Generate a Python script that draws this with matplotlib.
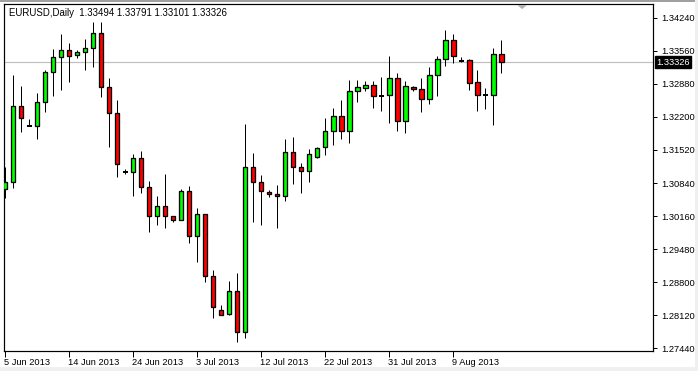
import matplotlib
matplotlib.use("Agg")
import matplotlib.pyplot as plt
import matplotlib.transforms as mtransforms
from matplotlib.patches import Rectangle, Polygon

symbol_title = "EURUSD,Daily"

opens = [1.30717, 1.30855, 1.32419, 1.32019, 1.32007, 1.32513, 1.33118, 1.33427, 1.33571, 1.33468,
         1.33530, 1.33612, 1.33921, 1.32816, 1.32275, 1.31060, 1.31060, 1.31349, 1.30752, 1.30155,
         1.30361, 1.30155, 1.30073, 1.30669, 1.29743, 1.30196, 1.28920, 1.28220, 1.28138, 1.28611,
         1.27768, 1.31163, 1.30855, 1.30649, 1.30608, 1.30566, 1.31472, 1.31163, 1.31081, 1.31369,
         1.31575, 1.31904, 1.32213, 1.31904, 1.32727, 1.32789, 1.32851, 1.32637, 1.32645, 1.32995,
         1.32110, 1.32816, 1.32769, 1.32563, 1.33057, 1.33386, 1.33777, 1.33357, 1.33365, 1.32913,
         1.32645, 1.32645, 1.33494]
highs = [1.31176, 1.33063, 1.32836, 1.32151, 1.32686, 1.33166, 1.33598, 1.33907, 1.33715, 1.33577,
         1.33804, 1.34147, 1.34147, 1.32995, 1.32542, 1.31128, 1.31431, 1.31499, 1.30881, 1.30573,
         1.31025, 1.30155, 1.30717, 1.30778, 1.30332, 1.30196, 1.29050, 1.28329, 1.28823, 1.28988,
         1.32054, 1.31458, 1.31005, 1.30696, 1.30799, 1.31746, 1.31781, 1.31246, 1.31534, 1.31587,
         1.32172, 1.32378, 1.32542, 1.32960, 1.32960, 1.32933, 1.32933, 1.33022, 1.33454, 1.33098,
         1.32939, 1.32836, 1.32995, 1.33227, 1.33448, 1.33989, 1.33907, 1.33427, 1.33386, 1.33166,
         1.32795, 1.33612, 1.33791]
lows = [1.30525, 1.30744, 1.31896, 1.32013, 1.31746, 1.32308, 1.32637, 1.32760, 1.32925, 1.33419,
        1.33172, 1.33234, 1.32604, 1.31587, 1.30970, 1.31019, 1.30579, 1.30641, 1.29838, 1.29976,
        1.29908, 1.30044, 1.30073, 1.29605, 1.29221, 1.28809, 1.28056, 1.28117, 1.28117, 1.27562,
        1.27644, 1.30044, 1.29976, 1.30558, 1.29920, 1.30476, 1.30826, 1.30641, 1.30867, 1.31349,
        1.31423, 1.31628, 1.31752, 1.31657, 1.32513, 1.32740, 1.32378, 1.32328, 1.32081, 1.31917,
        1.31863, 1.32727, 1.32308, 1.32460, 1.32637, 1.33254, 1.33316, 1.33324, 1.32760, 1.32328,
        1.32363, 1.32040, 1.33101]
closes = [1.30855, 1.32419, 1.32172, 1.32019, 1.32513, 1.33118, 1.33427, 1.33571, 1.33448, 1.33530,
          1.33612, 1.33921, 1.32816, 1.32275, 1.31225, 1.31060, 1.31349, 1.30752, 1.30155, 1.30361,
          1.30155, 1.30073, 1.30669, 1.29743, 1.30196, 1.28920, 1.28282, 1.28117, 1.28611, 1.27768,
          1.31163, 1.30855, 1.30669, 1.30608, 1.30566, 1.31472, 1.31163, 1.31081, 1.31431, 1.31567,
          1.31904, 1.32213, 1.31904, 1.32727, 1.32810, 1.32851, 1.32625, 1.32637, 1.32995, 1.32110,
          1.32830, 1.32775, 1.32563, 1.33057, 1.33386, 1.33777, 1.33448, 1.33357, 1.32904, 1.32645,
          1.32645, 1.33489, 1.33326]

date_tick_index = [0, 8, 16, 24, 32, 40, 48, 56]
date_tick_labels = ["5 Jun 2013", "14 Jun 2013", "24 Jun 2013", "3 Jul 2013",
                    "12 Jul 2013", "22 Jul 2013", "31 Jul 2013", "9 Aug 2013"]
price_ticks = [1.34240, 1.33560, 1.32880, 1.32200, 1.31520, 1.30840,
               1.30160, 1.29480, 1.28800, 1.28120, 1.27440]

W, H = 698, 371
DPI = 100
PX = 72.0 / DPI  # one pixel in points

fig = plt.figure(figsize=(W / DPI, H / DPI), dpi=DPI, facecolor="white")

# window-ish outer strips
fig.patches.append(Rectangle((0, 1 - 1.5 / H), 1, 1.5 / H, transform=fig.transFigure,
                             facecolor="#a0a0a0", edgecolor="none"))
fig.patches.append(Rectangle((0, 0), 1, 4 / H, transform=fig.transFigure,
                             facecolor="#f0f0f0", edgecolor="none"))
fig.patches.append(Rectangle((1 - 3 / W, 0), 3 / W, 1, transform=fig.transFigure,
                             facecolor="#f0f0f0", edgecolor="none"))

left, right, top, bottom = 4, 653, 4, 351
ax = fig.add_axes([left / W, 1 - bottom / H, (right - left) / W, (bottom - top) / H])
ax.set_facecolor("white")

n = len(opens)
xs = list(range(n))
ax.set_xlim(-0.16, 80.96)
ax.set_ylim(1.27383, 1.34524)

# close price line
last_close = closes[-1]
ax.axhline(last_close, color="#c0c0c0", lw=PX * 1.2, zorder=1)

# wicks
ax.vlines(xs, lows, highs, color="black", lw=PX, zorder=2)

body_w = 0.55
for i in range(n):
    o, c = opens[i], closes[i]
    if abs(c - o) < 1e-7:
        ax.hlines(o, i - body_w / 2 - 0.06, i + body_w / 2 + 0.06, color="black", lw=PX * 2, zorder=3)
    else:
        col = "#00ff00" if c > o else "#ff0000"
        ax.bar(i, abs(c - o), bottom=min(o, c), width=body_w, color=col,
               edgecolor="black", linewidth=PX * 1.3, zorder=3)

# axes frame
for s in ax.spines.values():
    s.set_color("black")
    s.set_linewidth(PX * 1.2)

font = "Liberation Sans"
fs = 6.7

# right price axis
ax.yaxis.tick_right()
ax.set_yticks(price_ticks)
ax.set_yticklabels([f"{p:.5f}" for p in price_ticks], fontfamily=font, fontsize=fs)
ax.tick_params(axis="y", direction="out", length=3, width=PX, pad=3, colors="black")
ax.tick_params(axis="y", which="both", left=False)

# date axis
ax.set_xticks(date_tick_index)
ax.set_xticklabels(date_tick_labels, fontfamily=font, fontsize=fs, ha="left")
ax.tick_params(axis="x", direction="out", length=4, width=PX, pad=1, colors="black")
offset = mtransforms.ScaledTranslation(-1.5 / DPI, 0, fig.dpi_scale_trans)
for lbl in ax.get_xticklabels():
    lbl.set_transform(lbl.get_transform() + offset)

# current price tag
trans = mtransforms.blended_transform_factory(ax.transAxes, ax.transData)
ax.text(1.0 + 3 / (right - left), last_close, f"{last_close:.5f}", transform=trans,
        fontfamily=font, fontsize=fs, color="white", va="center", ha="left",
        bbox=dict(boxstyle="square,pad=0.15", facecolor="black", edgecolor="black"),
        zorder=10, clip_on=False)

# chart shift marker
tri_x = 64.6
tri = Polygon([[tri_x - 0.6, 1.34500], [tri_x + 0.6, 1.34500], [tri_x, 1.34420]],
              closed=True, facecolor="#b0b0b0", edgecolor="none", zorder=5, clip_on=False)
ax.add_patch(tri)

# header text
title = f"{symbol_title}  {opens[-1]:.5f} {highs[-1]:.5f} {lows[-1]:.5f} {closes[-1]:.5f}"
fig.text(9 / W, 1 - 12.5 / H, title, fontfamily=font, fontsize=6.9, color="black",
         va="center", ha="left")

fig.savefig("out.png", dpi=DPI, facecolor=fig.get_facecolor())
